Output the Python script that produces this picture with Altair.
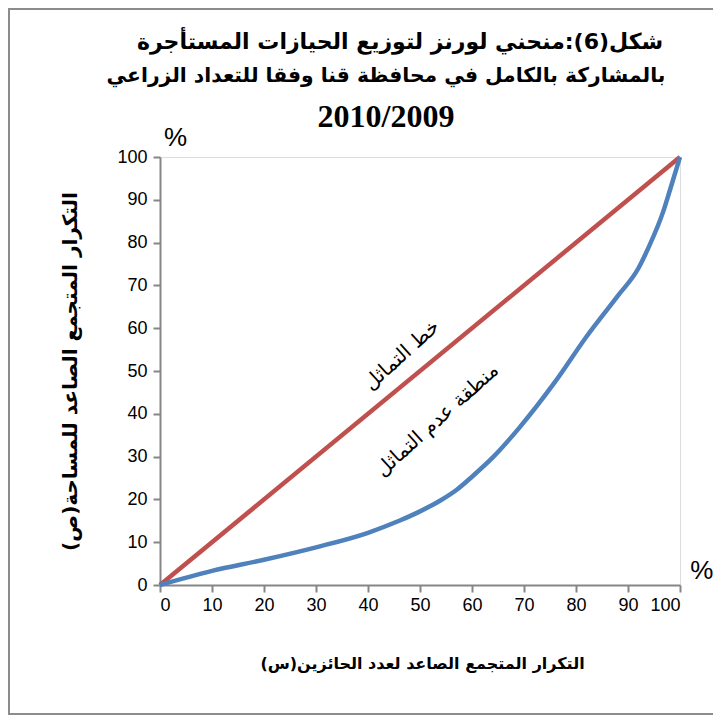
import altair as alt
import pandas as pd

# Lorenz curve (cumulative % of holders vs cumulative % of area)
lorenz_x = [0, 10, 20, 30, 40, 46, 50, 54, 57, 60, 64, 69, 76, 82, 88, 92, 94, 96.7, 98, 100]
lorenz_y = [0, 3.3, 5.9, 8.8, 12.2, 15.0, 17.2, 19.8, 22.2, 25.3, 29.8, 36.6, 47.5, 58, 67.5, 74, 79, 87, 92, 100]

# Line of equality
equal_x = [0, 100]
equal_y = [0, 100]

title_line1 = "شكل(6):منحني لورنز لتوزيع الحيازات المستأجرة"
title_line2 = "بالمشاركة بالكامل في محافظة قنا وفقا للتعداد الزراعي"
title_line3 = "2010/2009"
x_title = "التكرار المتجمع الصاعد لعدد الحائزين(س)"
y_title = "التكرار المتجمع الصاعد للمساحة(ص)"

ann_text = ["خط التماثل", "منطقة عدم التماثل"]
ann_x = [46.5, 53.3]
ann_y = [53.7, 38.5]

pct_text = ["%", "%"]
pct_x = [3, 104.2]
pct_y = [104.5, 3.2]

ticks = list(range(0, 101, 10))

lor = pd.DataFrame({"x": lorenz_x, "y": lorenz_y})
eq = pd.DataFrame({"x": equal_x, "y": equal_y})
ann = pd.DataFrame({"t": ann_text, "x": ann_x, "y": ann_y})
pct = pd.DataFrame({"t": pct_text, "x": pct_x, "y": pct_y})

xs = alt.Scale(domain=[0, 100], nice=False)
ys = alt.Scale(domain=[0, 100], nice=False)

xaxis = alt.Axis(values=ticks, title=x_title, grid=False, domainColor="#868686",
                 domainWidth=2, tickColor="#868686", tickWidth=2, tickSize=7,
                 labelFontSize=18, labelColor="black", labelPadding=4,
                 labelFont="Liberation Sans",
                 titleFontSize=16, titleFont="DejaVu Sans", titleFontWeight="bold",
                 titleColor="black", titleX=262, titleY=78, titleBaseline="middle")
yaxis = alt.Axis(values=ticks, title=y_title, grid=False, domainColor="#868686",
                 domainWidth=2, tickColor="#868686", tickWidth=2, tickSize=7,
                 labelFontSize=18, labelColor="black", labelPadding=6,
                 labelFont="Liberation Sans",
                 titleFontSize=20, titleFont="DejaVu Sans", titleFontWeight="bold",
                 titleColor="black", titleX=-90, titleY=214, titleBaseline="middle",
                 titleAngle=270)

base_x = alt.X("x:Q", scale=xs, axis=xaxis)
base_y = alt.Y("y:Q", scale=ys, axis=yaxis)

eq_line = alt.Chart(eq).mark_line(color="#C0504D", strokeWidth=4.5).encode(x=base_x, y=base_y)
lor_line = alt.Chart(lor).mark_line(color="#4F81BD", strokeWidth=4.5,
                                    interpolate="monotone").encode(x=base_x, y=base_y)

ann_marks = alt.Chart(ann).mark_text(font="DejaVu Sans", fontSize=20, angle=318,
                                     color="black").encode(
    x=alt.X("x:Q", scale=xs), y=alt.Y("y:Q", scale=ys), text="t:N")

pct_marks = alt.Chart(pct).mark_text(font="Liberation Sans", fontSize=26, color="black",
                                     clip=False).encode(
    x=alt.X("x:Q", scale=xs), y=alt.Y("y:Q", scale=ys), text="t:N")

one = pd.DataFrame({"k": [0]})

frame = alt.Chart(one).mark_rect(
    fill=None, stroke="#8c8c8c", strokeWidth=2, clip=False).encode(
    x=alt.value(-151), x2=alt.value(575), y=alt.value(-148), y2=alt.value(557))

def title_text(txt, xpos, ypos, font, size):
    return alt.Chart(one).mark_text(text=txt, font=font, fontSize=size, fontWeight="bold",
                                    color="black", align="center", baseline="alphabetic",
                                    clip=False).encode(x=alt.value(xpos), y=alt.value(ypos))

t1 = title_text(title_line1, 240, -108, "DejaVu Sans", 22)
t2 = title_text(title_line2, 226, -75, "DejaVu Sans", 20.3)
t3 = title_text(title_line3, 226, -30, "Liberation Serif", 32)

chart = alt.layer(frame, eq_line, lor_line, ann_marks, pct_marks, t1, t2, t3).properties(
    width=520, height=428,
    autosize=alt.AutoSizeParams(type="none"),
    padding={"left": 152, "top": 149, "right": 33, "bottom": 131},
).configure_view(stroke="#868686", strokeWidth=2).configure(background="white")

chart.save("out.html", embed_options={"renderer": "svg", "actions": False})
